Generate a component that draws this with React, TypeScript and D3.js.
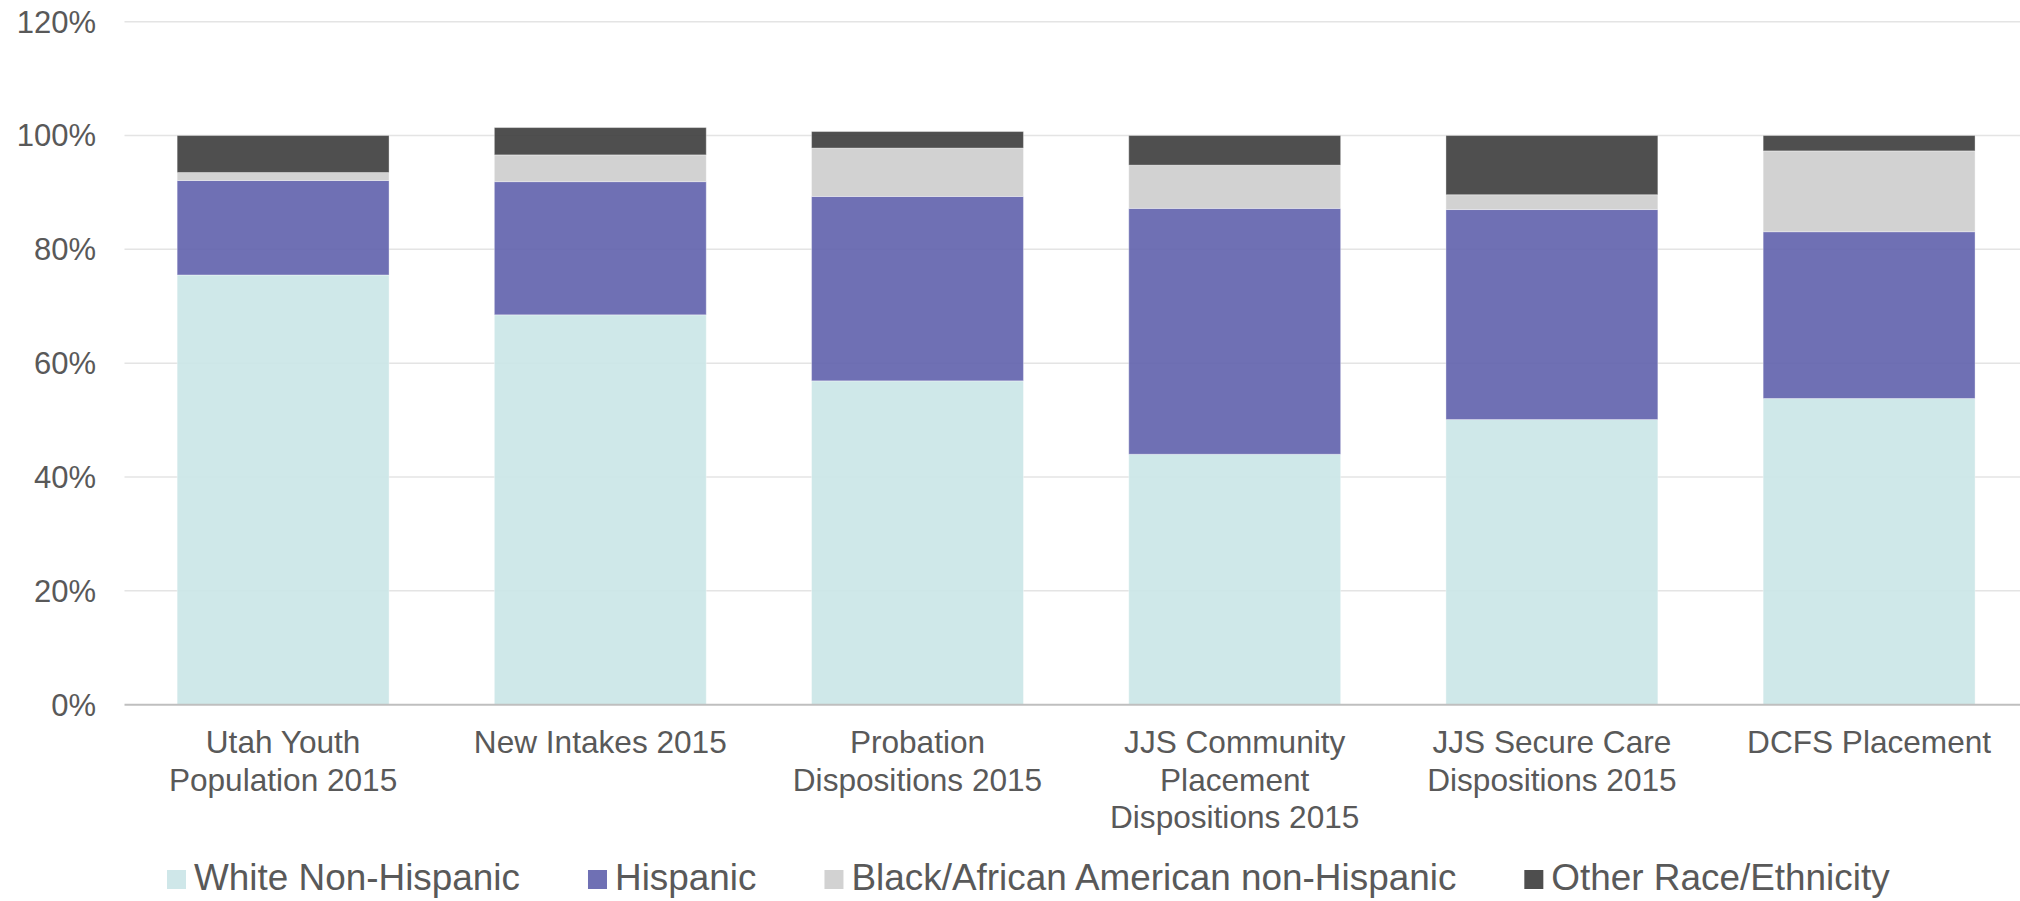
import { scaleBand, scaleLinear, stack } from 'd3'
import { useLayoutEffect, useRef, useState } from 'react'

const categories = [
  ['Utah Youth', 'Population 2015'],
  ['New Intakes 2015'],
  ['Probation', 'Dispositions 2015'],
  ['JJS Community', 'Placement', 'Dispositions 2015'],
  ['JJS Secure Care', 'Dispositions 2015'],
  ['DCFS Placement'],
]

const seriesNames = [
  'White Non-Hispanic',
  'Hispanic',
  'Black/African American non-Hispanic',
  'Other Race/Ethnicity',
]

const white = [75.5, 68.5, 56.9, 44.0, 50.1, 53.8]
const hispanic = [16.6, 23.4, 32.4, 43.2, 36.9, 29.3]
const black = [1.4, 4.7, 8.5, 7.6, 2.6, 14.2]
const other = [6.5, 4.8, 2.9, 5.2, 10.4, 2.7]

const yTicks = [0, 20, 40, 60, 80, 100, 120]

// base colours, drawn at 0.92 opacity so the grid shows through a little
const colors = ['#cbe6e7', '#6364ae', '#cecece', '#404040']
const legendColors = ['#cfe7e9', '#6f70b4', '#d2d2d2', '#4e4e4e']
const textColor = '#595959'
const font = '"Liberation Sans", Arial, sans-serif'

const W = 2020
const H = 901

export default function App() {
  const rows = categories.map((_, i) => ({
    i,
    s0: white[i],
    s1: hispanic[i],
    s2: black[i],
    s3: other[i],
  }))
  const series = stack<any>().keys(['s0', 's1', 's2', 's3'])(rows)

  const x = scaleBand<number>()
    .domain(categories.map((_, i) => i))
    .range([124.5, 2027.7])
    .paddingInner(0.332)
    .paddingOuter(0.166)
  const y = scaleLinear().domain([0, 120]).range([704.7, 21.7])

  const legendRefs = useRef<(SVGTextElement | null)[]>([])
  const [widths, setWidths] = useState<number[]>(seriesNames.map(() => 0))
  useLayoutEffect(() => {
    setWidths(legendRefs.current.map((t) => (t ? t.getComputedTextLength() : 0)))
  }, [])

  let lx = 167
  const legendPos = seriesNames.map((_, k) => {
    const p = lx
    lx += 19 + 9 + widths[k] + 67
    return p
  })

  return (
    <svg
      width={W}
      height={H}
      style={{ position: 'absolute', left: 0, top: 0, display: 'block', background: '#fff' }}
      fontFamily={font}
    >
      {yTicks.map((t) => (
        <g key={t}>
          {t > 0 && (
            <line x1={124.5} x2={W} y1={y(t)} y2={y(t)} stroke="#e4e4e4" strokeWidth={1.5} />
          )}
          <text
            x={96}
            y={y(t)}
            dy="0.35em"
            textAnchor="end"
            fontSize={31}
            fill={textColor}
          >
            {t}%
          </text>
        </g>
      ))}

      {series.map((s, k) => (
        <g key={k}>
          {s.map((d, i) => (
            <rect
              key={i}
              x={x(i)}
              width={x.bandwidth()}
              y={y(d[1])}
              height={y(d[0]) - y(d[1])}
              fill={colors[k]}
              fillOpacity={0.92}
              stroke="#ffffff"
              strokeOpacity={0.35}
              strokeWidth={1}
            />
          ))}
        </g>
      ))}

      <line x1={124.5} x2={W} y1={y(0)} y2={y(0)} stroke="#bfbfbf" strokeWidth={2} />

      {categories.map((lines, i) => (
        <text
          key={i}
          x={(x(i) ?? 0) + x.bandwidth() / 2}
          y={753}
          textAnchor="middle"
          fontSize={31.6}
          fill={textColor}
        >
          {lines.map((l, j) => (
            <tspan key={j} x={(x(i) ?? 0) + x.bandwidth() / 2} dy={j === 0 ? 0 : 37.5}>
              {l}
            </tspan>
          ))}
        </text>
      ))}

      {seriesNames.map((name, k) => (
        <g key={name} transform={`translate(${legendPos[k]},0)`}>
          <rect x={0} y={870} width={19} height={19} fill={legendColors[k]} />
          <text
            ref={(el) => {
              legendRefs.current[k] = el
            }}
            x={27}
            y={890}
            fontSize={36.9}
            fill={textColor}
          >
            {name}
          </text>
        </g>
      ))}
    </svg>
  )
}
